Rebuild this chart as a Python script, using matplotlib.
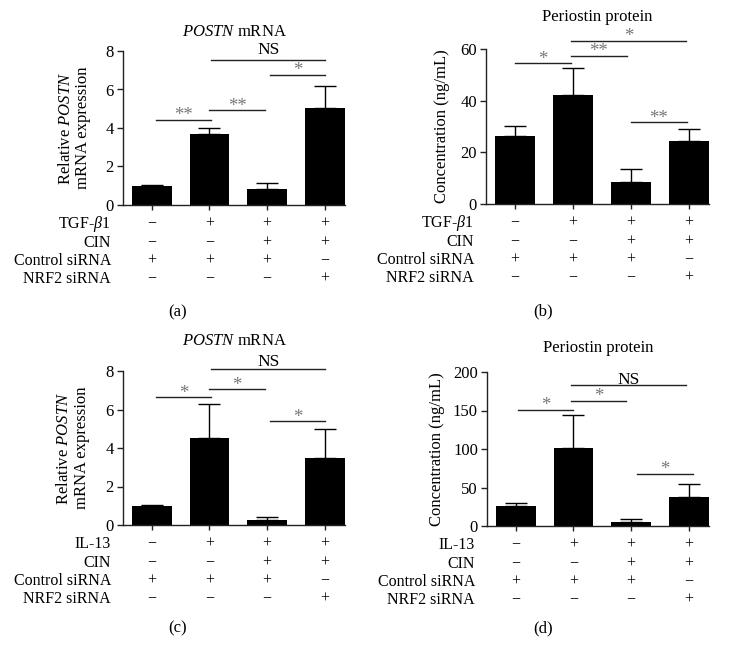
import matplotlib
matplotlib.use("Agg")
import matplotlib.pyplot as plt

plt.rcParams['font.family'] = ['Liberation Serif', 'DejaVu Serif']
plt.rcParams['mathtext.fontset'] = 'custom'
plt.rcParams['mathtext.rm'] = 'Liberation Serif'
plt.rcParams['mathtext.it'] = 'Liberation Serif:italic'

# ---------------- data ----------------
row_labels_tgf = ["TGF-$\\beta$1", "CIN", "Control siRNA", "NRF2 siRNA"]
row_labels_il = ["IL-13", "CIN", "Control siRNA", "NRF2 siRNA"]
row_signs = [["−", "+", "+", "+"],
             ["−", "−", "+", "+"],
             ["+", "+", "+", "−"],
             ["−", "−", "−", "+"]]

a_vals = [1.00, 3.69, 0.85, 5.02]
a_errs = [0.04, 0.33, 0.27, 1.18]
b_vals = [26.4, 42.1, 8.5, 24.2]
b_errs = [3.9, 10.6, 5.0, 4.8]
c_vals = [1.00, 4.50, 0.28, 3.48]
c_errs = [0.04, 1.77, 0.12, 1.49]
d_vals = [26.4, 100.9, 4.8, 37.7]
d_errs = [3.0, 43.3, 3.9, 17.3]

# significance brackets: (x_start, x_end, y, label)
a_sig = [(0.07, 1.03, 4.42, "**"), (1.0, 1.97, 4.92, "**"),
         (1.03, 3.01, 7.55, "NS"), (2.05, 3.01, 6.75, "*")]
b_sig = [(0.0, 0.97, 54.4, "*"), (0.97, 1.93, 57.3, "**"),
         (0.97, 2.95, 63.1, "*"), (2.0, 2.97, 31.6, "**")]
c_sig = [(0.07, 1.03, 6.63, "*"), (1.0, 1.96, 7.06, "*"),
         (1.03, 3.01, 8.10, "NS"), (2.05, 3.01, 5.39, "*")]
d_sig = [(0.03, 1.0, 150.6, "*"), (0.95, 1.91, 162.8, "*"),
         (0.95, 2.95, 183.5, "NS"), (2.1, 3.07, 68.0, "*")]

W, H = 729, 662
fig = plt.figure(figsize=(W / 100, H / 100), dpi=100)


def px_axes(left, bottom_px, top_px, right):
    return fig.add_axes([left / W, 1 - bottom_px / H,
                         (right - left) / W, (bottom_px - top_px) / H])


def panel(ax, vals, errs, ylim, yticks, ylabel, title, sig, rows, letter,
          title_y_px, letter_xy, ylabel_x, ns_off):
    x = range(len(vals))
    ax.bar(x, vals, width=0.69, color='black', zorder=2)
    ax.errorbar(x, vals, yerr=[[0] * len(errs), errs], fmt='none',
                ecolor='black', elinewidth=1, capsize=8, capthick=1, zorder=1)
    ax.set_xlim(-0.5, 3.35)
    ax.set_ylim(*ylim)
    ax.set_yticks(yticks)
    ax.set_xticks(list(x))
    ax.set_xticklabels([])
    for s in ['top', 'right']:
        ax.spines[s].set_visible(False)
    for s in ['left', 'bottom']:
        ax.spines[s].set_linewidth(1)
        ax.spines[s].set_color('#222222')
    ax.tick_params(axis='y', direction='out', length=4, width=1,
                   labelsize=12, pad=2.5, color='#222222')
    ax.tick_params(axis='x', direction='out', length=3.5, width=1,
                   color='#222222')
    ax.set_ylabel(ylabel, fontsize=12, linespacing=1.1)
    ax.yaxis.label.set_va('center')
    ax.yaxis.set_label_coords(ylabel_x, 0.5)
    # significance brackets
    for x0, x1, y, lab in sig:
        ax.plot([x0, x1], [y, y], color='#222222', lw=1, clip_on=False)
        xm = (x0 + x1) / 2
        if lab == "NS":
            ax.annotate(lab, xy=(xm, y), xytext=(0, ns_off),
                        textcoords='offset points', ha='center', va='bottom',
                        fontsize=12.5, color='black', annotation_clip=False)
        else:
            ax.annotate(lab, xy=(xm, y), xytext=(0, -0.3),
                        textcoords='offset points', ha='center',
                        va='baseline', fontsize=13.5, color='#777777',
                        annotation_clip=False)
    # condition table
    trans = ax.get_xaxis_transform()
    offsets = [19, 38, 56, 74]
    for r, (lab, signs) in enumerate(zip(rows, row_signs)):
        dy = -offsets[r] * 0.72
        ax.annotate(lab, xy=(0, 0), xycoords='axes fraction',
                    xytext=(-12 * 0.72, dy), textcoords='offset points',
                    ha='right', va='center', fontsize=11.5,
                    annotation_clip=False)
        for i, sg in enumerate(signs):
            ax.annotate(sg, xy=(i, 0), xycoords=trans,
                        xytext=(0, dy), textcoords='offset points',
                        ha='center', va='center', fontsize=11.5,
                        annotation_clip=False)
    # title
    bb = ax.get_position()
    fig.text((bb.x0 + bb.x1) / 2, 1 - title_y_px / H, title,
             ha='center', va='center', fontsize=12)
    fig.text(letter_xy[0] / W, 1 - letter_xy[1] / H, letter,
             ha='center', va='center', fontsize=12)


ax_a = px_axes(123, 205, 51, 345)
panel(ax_a, a_vals, a_errs, (0, 8), [0, 2, 4, 6, 8],
      "Relative $\\mathit{POSTN}$\nmRNA expression", "$\\mathit{POSTN}$ mRNA",
      a_sig, row_labels_tgf, "(a)", 32, (178, 312), -0.22, 1.5)

ax_b = px_axes(486, 204, 49, 709)
panel(ax_b, b_vals, b_errs, (0, 60), [0, 20, 40, 60],
      "Concentration (ng/mL)", "Periostin protein",
      b_sig, row_labels_tgf, "(b)", 17, (543, 311), -0.198, 1.5)

ax_c = px_axes(123, 525, 371, 345)
panel(ax_c, c_vals, c_errs, (0, 8), [0, 2, 4, 6, 8],
      "Relative $\\mathit{POSTN}$\nmRNA expression", "$\\mathit{POSTN}$ mRNA",
      c_sig, row_labels_il, "(c)", 341, (178, 628), -0.225, -0.9)

ax_d = px_axes(487, 526, 372, 709)
panel(ax_d, d_vals, d_errs, (0, 200), [0, 50, 100, 150, 200],
      "Concentration (ng/mL)", "Periostin protein",
      d_sig, row_labels_il, "(d)", 348, (543, 628), -0.225, -2.3)

fig.savefig("out.png", dpi=100)
